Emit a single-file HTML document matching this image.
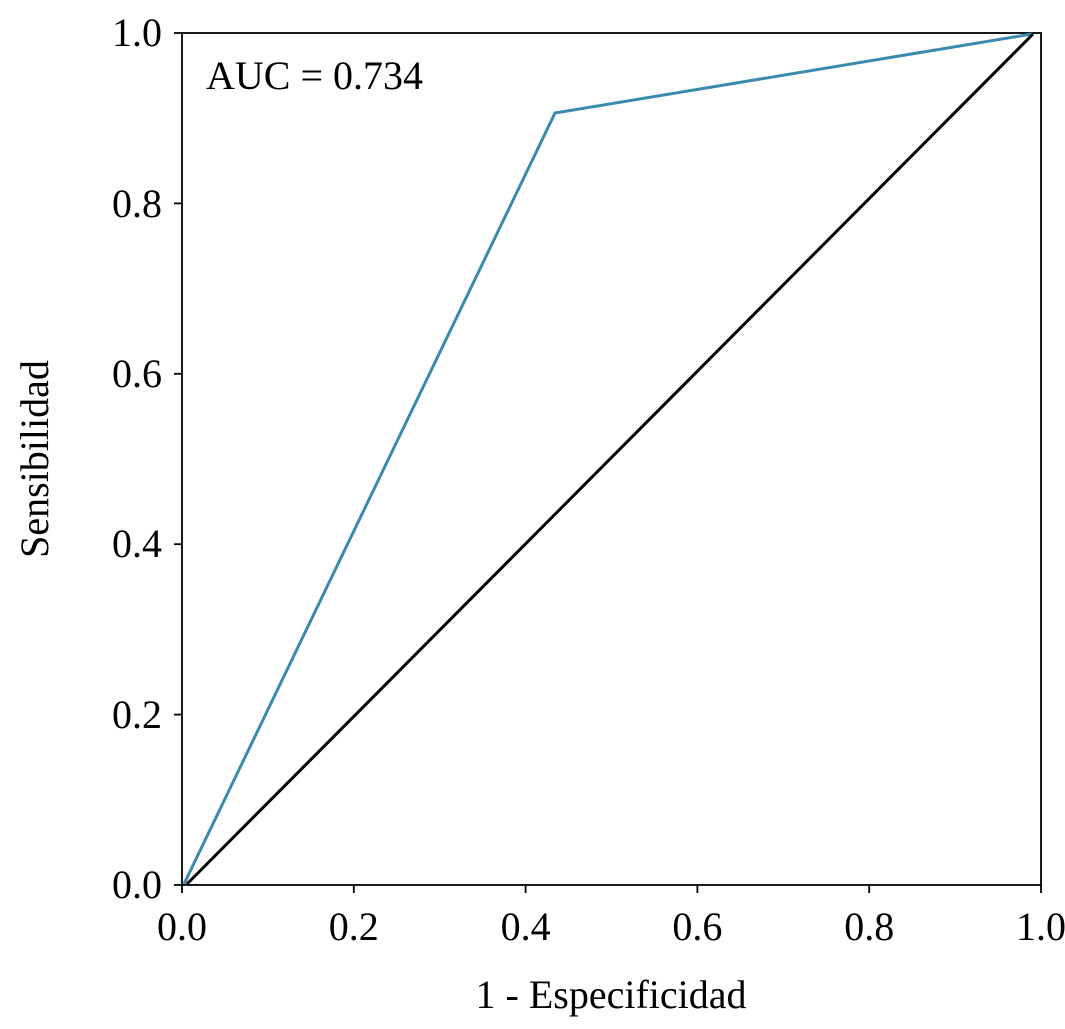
<!DOCTYPE html><html><head><style>body{margin:0;background:#fff}</style></head><body>
<svg width="1065" height="1024" xmlns="http://www.w3.org/2000/svg" font-family="Liberation Serif, serif" font-size="40" fill="#000">
<rect x="182" y="33" width="859" height="852" fill="none" stroke="#000" stroke-width="1.8"/>
<polyline points="184,884 555,113 1032,34" fill="none" stroke="#3a8ab0" stroke-width="3"/>
<line x1="187" y1="884" x2="1033" y2="34" stroke="#000" stroke-width="3"/>
<g stroke="#000" stroke-width="1.8">
<line x1="182" y1="885" x2="182" y2="893"/><line x1="353.8" y1="885" x2="353.8" y2="893"/><line x1="525.6" y1="885" x2="525.6" y2="893"/><line x1="697.4" y1="885" x2="697.4" y2="893"/><line x1="869.2" y1="885" x2="869.2" y2="893"/><line x1="1041" y1="885" x2="1041" y2="893"/>
<line x1="174" y1="885" x2="182" y2="885"/><line x1="174" y1="714.6" x2="182" y2="714.6"/><line x1="174" y1="544.2" x2="182" y2="544.2"/><line x1="174" y1="373.8" x2="182" y2="373.8"/><line x1="174" y1="203.4" x2="182" y2="203.4"/><line x1="174" y1="33" x2="182" y2="33"/>
</g>
<g text-anchor="middle">
<text x="182" y="940">0.0</text><text x="353.8" y="940">0.2</text><text x="525.6" y="940">0.4</text><text x="697.4" y="940">0.6</text><text x="869.2" y="940">0.8</text><text x="1041" y="940">1.0</text>
<text x="611" y="1008">1 - Especificidad</text>
</g>
<g text-anchor="end">
<text x="162" y="898">0.0</text><text x="162" y="728">0.2</text><text x="162" y="557">0.4</text><text x="162" y="387">0.6</text><text x="162" y="217">0.8</text><text x="162" y="46">1.0</text>
</g>
<text x="48" y="459" text-anchor="middle" transform="rotate(-90 48 459)">Sensibilidad</text>
<text x="206" y="89">AUC = 0.734</text>
</svg></body></html>
